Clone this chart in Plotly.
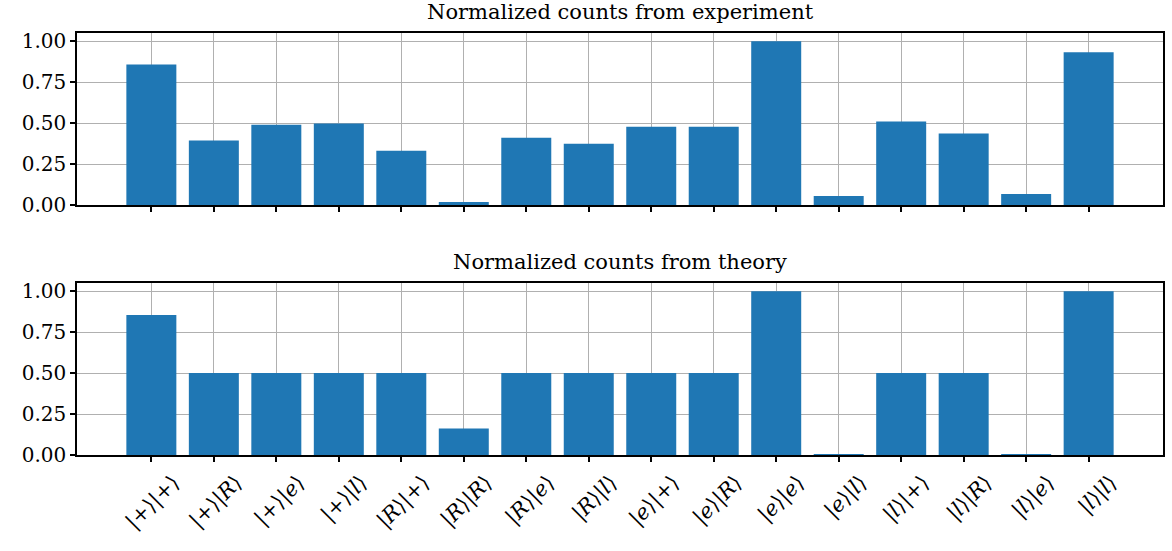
import plotly.graph_objects as go

states = ["+", "R", "e", "l"]
tick_labels = []
for a in states:
    for b in states:
        fa = a if a == "+" else f"<i>{a}</i>"
        fb = b if b == "+" else f"<i>{b}</i>"
        tick_labels.append(f"|{fa}\u27e9|{fb}\u27e9")

experiment = [0.857, 0.393, 0.490, 0.497, 0.331, 0.018, 0.410, 0.374,
              0.478, 0.478, 1.000, 0.055, 0.509, 0.436, 0.067, 0.933]
theory = [0.855, 0.500, 0.500, 0.500, 0.500, 0.162, 0.500, 0.500,
          0.500, 0.500, 1.000, 0.005, 0.500, 0.500, 0.005, 1.000]

titles = ["Normalized counts from experiment", "Normalized counts from theory"]

W, H = 1172, 551
x0, x1 = 77 / W, 1163 / W
top_dom = [(H - 205) / H, (H - 33) / H]
bot_dom = [(H - 455) / H, (H - 283) / H]

xs = list(range(len(tick_labels)))
color = "#1f77b4"
fnt = "DejaVu Serif, serif"

fig = go.Figure()
fig.add_trace(go.Bar(x=xs, y=experiment, width=0.8, marker=dict(color=color, line=dict(width=0)),
                     xaxis="x", yaxis="y", showlegend=False))
fig.add_trace(go.Bar(x=xs, y=theory, width=0.8, marker=dict(color=color, line=dict(width=0)),
                     xaxis="x2", yaxis="y2", showlegend=False))

ax_common = dict(showline=True, mirror=True, linecolor="black", linewidth=1.5,
                 showgrid=True, gridcolor="#b0b0b0", gridwidth=1.3,
                 ticks="outside", ticklen=5, tickwidth=1.5, tickcolor="black",
                 zeroline=False, automargin=False)

yticks = [0, 0.25, 0.5, 0.75, 1.0]
ytext = ["0.00", "0.25", "0.50", "0.75", "1.00"]
yfont = dict(family=fnt, size=20, color="black")

fig.update_layout(
    width=W, height=H,
    margin=dict(l=0, r=0, t=0, b=0),
    paper_bgcolor="white", plot_bgcolor="white",
    font=dict(family=fnt, color="black"),
    xaxis=dict(domain=[x0, x1], anchor="y", range=[-1.19, 16.19],
               tickvals=xs, ticktext=[""] * len(xs), tickfont=yfont, **ax_common),
    yaxis=dict(domain=top_dom, anchor="x", range=[0, 1.05],
               tickvals=yticks, ticktext=ytext, tickfont=yfont, **ax_common),
    xaxis2=dict(domain=[x0, x1], anchor="y2", range=[-1.19, 16.19],
                tickvals=xs, ticktext=tick_labels, tickangle=-45,
                ticklabelshift=22,
                tickfont=dict(family=fnt, size=21, color="black"), **ax_common),
    yaxis2=dict(domain=bot_dom, anchor="x2", range=[0, 1.05],
                tickvals=yticks, ticktext=ytext, tickfont=yfont, **ax_common),
    annotations=[
        dict(text=titles[0], x=(x0 + x1) / 2, y=top_dom[1], xref="paper", yref="paper",
             xanchor="center", yanchor="bottom", yshift=7, showarrow=False,
             font=dict(family=fnt, size=21, color="black")),
        dict(text=titles[1], x=(x0 + x1) / 2, y=bot_dom[1], xref="paper", yref="paper",
             xanchor="center", yanchor="bottom", yshift=7, showarrow=False,
             font=dict(family=fnt, size=21, color="black")),
    ],
)

fig.write_html("out.html", config={"displayModeBar": False},
               post_script="document.body.style.margin='0';document.body.style.overflow='hidden';")
